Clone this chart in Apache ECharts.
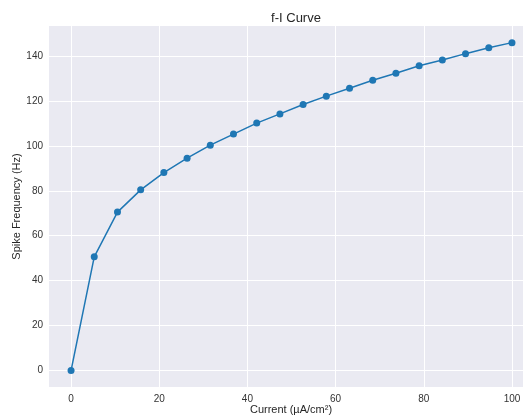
<!DOCTYPE html>
<html><head><meta charset="utf-8">
<script src="https://cdn.jsdelivr.net/npm/echarts@6/dist/echarts.min.js"></script>
<style>html,body{margin:0;padding:0;background:#fff}#c{width:523px;height:418px}</style>
</head><body><div id="c"></div>
<script>
const current = [0, 5.26, 10.53, 15.79, 21.05, 26.32, 31.58, 36.84, 42.11, 47.37, 52.63, 57.89, 63.16, 68.42, 73.68, 78.95, 84.21, 89.47, 94.74, 100];
const freq = [0, 50.6, 70.5, 80.4, 88.1, 94.5, 100.3, 105.2, 110.1, 114.2, 118.4, 122.1, 125.6, 129.2, 132.3, 135.6, 138.2, 141.0, 143.6, 145.9];
const xTicks = [0, 20, 40, 60, 80, 100];
const yTicks = [0, 20, 40, 60, 80, 100, 120, 140];
const title = 'f-I Curve';
const xName = 'Current (µA/cm²)';
const yName = 'Spike Frequency (Hz)';

const font = 'Liberation Sans, Arial, sans-serif';
const chart = echarts.init(document.getElementById('c'), null, {renderer: 'canvas'});
chart.setOption({
  animation: false,
  backgroundColor: '#fff',
  title: {text: title, left: 291, textAlign: 'center', top: 7, textStyle: {fontFamily: font, fontSize: 13, fontWeight: 'normal', color: '#262626'}},
  grid: {left: 49, right: 0, top: 26, bottom: 31, show: true, backgroundColor: '#EAEAF2', borderWidth: 0, outerBoundsMode: 'none', containLabel: false},
  xAxis: {
    type: 'value', min: -5, max: 102.5,
    name: xName, nameLocation: 'middle', nameGap: 17, nameMoveOverlap: false,
    nameTextStyle: {fontFamily: font, fontSize: 11, color: '#262626', padding: [0, 0, 0, 10]},
    axisLine: {show: false}, axisTick: {show: false, customValues: xTicks},
    axisLabel: {customValues: xTicks, fontFamily: font, fontSize: 10, color: '#333', margin: 7},
    splitLine: {show: true, lineStyle: {color: '#fff', width: 1}}
  },
  yAxis: {
    type: 'value', min: -7.3, max: 153.3,
    name: yName, nameLocation: 'middle', nameGap: 27, nameMoveOverlap: false,
    nameTextStyle: {fontFamily: font, fontSize: 11, color: '#262626'},
    axisLine: {show: false}, axisTick: {show: false, customValues: yTicks},
    axisLabel: {customValues: yTicks, fontFamily: font, fontSize: 10, color: '#333', margin: 6},
    splitLine: {show: true, lineStyle: {color: '#fff', width: 1}}
  },
  series: [{
    type: 'line',
    data: current.map((x, i) => [x, freq[i]]),
    symbol: 'circle', symbolSize: 7,
    lineStyle: {color: '#1f77b4', width: 1.5},
    itemStyle: {color: '#1f77b4'}
  }]
});
</script></body></html>
